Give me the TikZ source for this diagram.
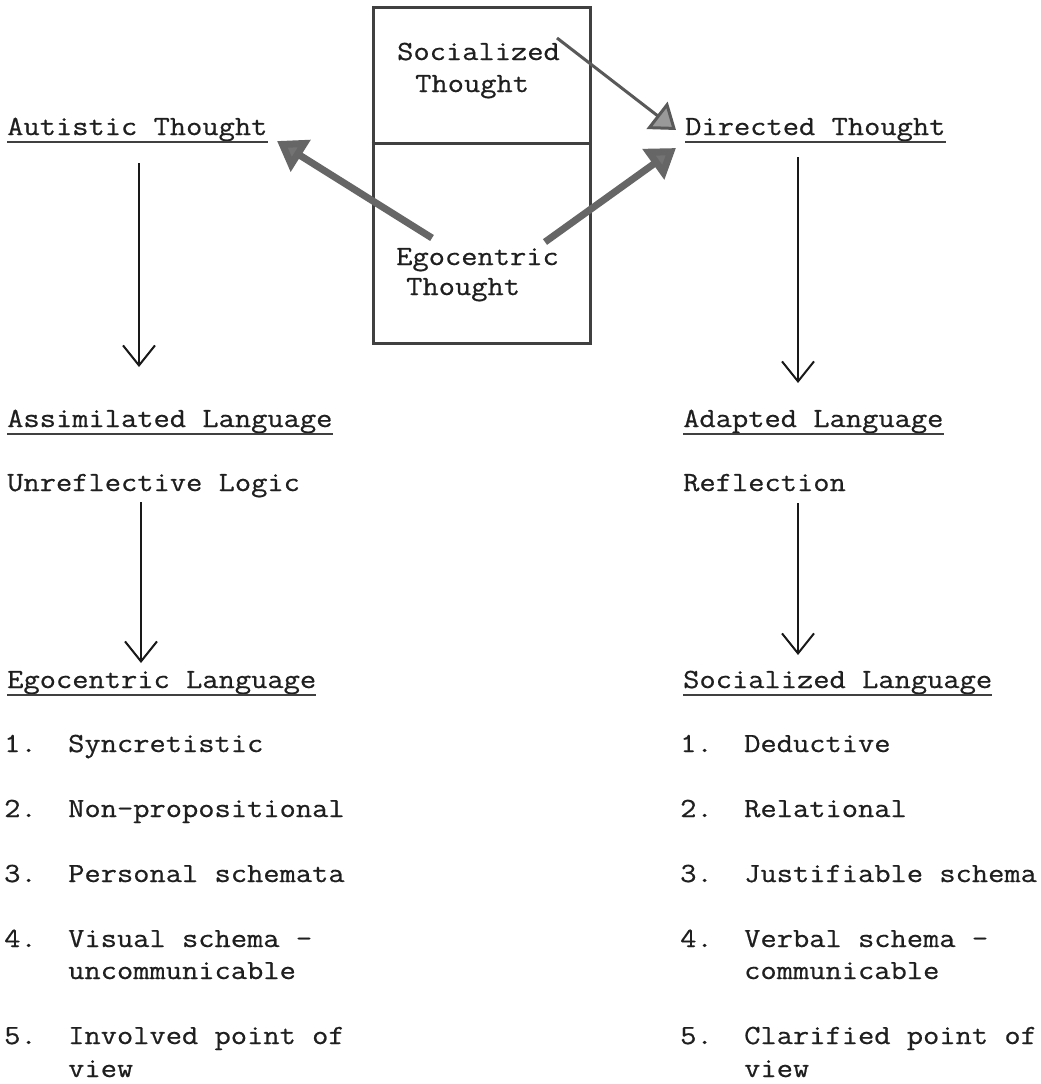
\documentclass[tikz,border=0pt]{standalone}
\usepackage{fontspec}
\setmainfont{Latin Modern Mono}[FakeStretch=1.14,FakeBold=0.6]
\usetikzlibrary{arrows.meta,calc}
\begin{document}
\begin{tikzpicture}[x=1pt,y=-1pt,
  every node/.style={inner sep=0pt, anchor=base west, font=\fontsize{27.7}{32}\selectfont, text=black!88},
  uline/.style={line width=1.8pt, draw=black!75},
  boxline/.style={line width=3pt, draw=black!75},
  varrow/.style={line width=1.5pt, draw=black!90, -{Straight Barb[length=20pt,width=32pt,line width=2pt]}},
  thickarrow/.style={line width=7pt, draw=black!60, -{Triangle[length=28pt,width=36pt,fill=black!55]}},
  thinarrow/.style={line width=3pt, draw=black!65, -{Triangle[length=24pt,width=34pt,fill=black!40]}}]
\useasboundingbox[fill=white] (0,0) rectangle (1041,1084);

% central box
\node[draw, line width=3pt, draw=black!75, minimum width=217pt, minimum height=336pt, anchor=center] (box) at (481.5,175) {};
\draw[boxline] ($(box.north west)+(0,138)$) -- ($(box.north east)+(0,138)$);
\node (soc1) at (397,60) {Socialized};
\node (soc2) at (415,92) {Thought};
\node (ego1) at (396,265) {Egocentric};
\node (ego2) at (406,295) {Thought};

% headings
\node (aut) at (7,135) {Autistic Thought};
\node (dir) at (685,135) {Directed Thought};
\node (ass) at (7,427) {Assimilated Language};
\node (ada) at (683,427) {Adapted Language};
\node (unr) at (7,491) {Unreflective Logic};
\node (ref) at (683,491) {Reflection};
\node (egl) at (7,688) {Egocentric Language};
\node (sol) at (683,688) {Socialized Language};

\foreach \n in {aut,dir,ass,ada,egl,sol}
  \draw[uline] ([yshift=-7pt]\n.base west) -- ([yshift=-7pt]\n.base east);

% lists
\node (ln1) at (4,752) {1.};  \node (lt1) at (68,752) {Syncretistic};
\node (ln2) at (4,817) {2.};  \node (lt2) at (68,817) {Non-propositional};
\node (ln3) at (4,882) {3.};  \node (lt3) at (68,882) {Personal schemata};
\node (ln4) at (4,947) {4.};  \node (lt4) at (68,947) {Visual schema -};
\node (lt4b) at (68,979) {uncommunicable};
\node (ln5) at (4,1044) {5.}; \node (lt5) at (68,1044) {Involved point of};
\node (lt5b) at (68,1077) {view};

\node (rn1) at (680,752) {1.};  \node (rt1) at (744,752) {Deductive};
\node (rn2) at (680,817) {2.};  \node (rt2) at (744,817) {Relational};
\node (rn3) at (680,882) {3.};  \node (rt3) at (744,882) {Justifiable schema};
\node (rn4) at (680,947) {4.};  \node (rt4) at (744,947) {Verbal schema -};
\node (rt4b) at (744,979) {communicable};
\node (rn5) at (680,1044) {5.}; \node (rt5) at (744,1044) {Clarified point of};
\node (rt5b) at (744,1077) {view};

% vertical arrows
\draw[varrow] ($(aut.base west)+(132,28)$) -- ($(ass.base west)+(132,-60)$);
\draw[varrow] ($(dir.base west)+(113,22)$) -- ($(ada.base west)+(115,-44)$);
\draw[varrow] ($(unr.base west)+(134,11)$) -- ($(egl.base west)+(134,-25)$);
\draw[varrow] ($(ref.base west)+(115,12)$) -- ($(sol.base west)+(115,-33)$);

% gray arrows
\draw[thickarrow] ($(ego1.base west)+(36,-27)$) -- ($(aut.base west)+(270,6)$);
\draw[thickarrow] ($(ego1.base west)+(149,-23)$) -- ($(dir.base west)+(-9,13)$);
\draw[thinarrow] ($(soc1.base west)+(160,-22)$) -- ($(dir.base west)+(-9,-5)$);
\end{tikzpicture}
\end{document}
